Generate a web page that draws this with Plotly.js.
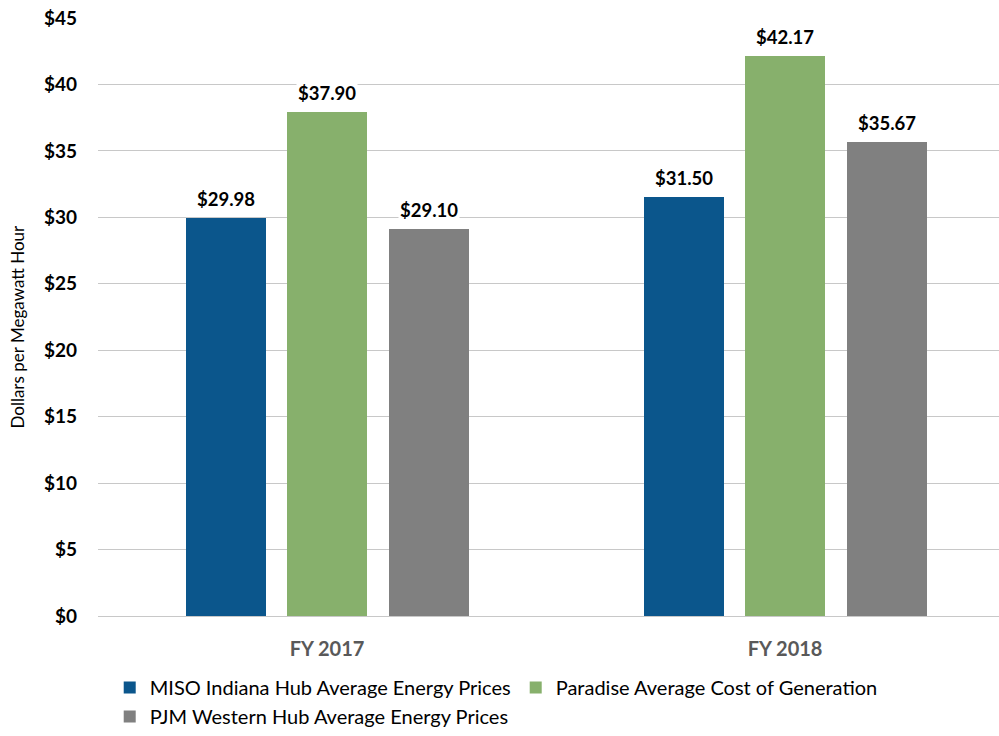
<!DOCTYPE html>
<html>
<head>
<meta charset="utf-8">
<script src="https://cdn.plot.ly/plotly-3.0.1.min.js"></script>
<style>html,body{margin:0;padding:0;background:#fff;}#chart{width:999px;height:736px;}</style>
</head>
<body>
<div id="chart"></div>
<script>
const categories = ["FY 2017", "FY 2018"];
const seriesNames = [
  "MISO Indiana Hub Average Energy Prices",
  "Paradise Average Cost of Generation",
  "PJM Western Hub Average Energy Prices"
];
const misoValues = [29.98, 31.50];
const paradiseValues = [37.90, 42.17];
const pjmValues = [29.10, 35.67];
const seriesColors = ["#0B568C", "#87B06C", "#808080"];
const yTickValues = [0, 5, 10, 15, 20, 25, 30, 35, 40, 45];
const yTickLabels = ["$0", "$5", "$10", "$15", "$20", "$25", "$30", "$35", "$40", "$45"];
const yAxisTitle = "Dollars per Megawatt Hour";

const FONT = "Lato, 'Liberation Sans', sans-serif";
const allValues = [misoValues, paradiseValues, pjmValues];
const offsetStep = 0.2216;
const barWidth = 0.1747;
const catIdx = categories.map((c, i) => i);

const traces = allValues.map((vals, k) => ({
  type: "bar",
  name: seriesNames[k],
  x: catIdx.map(i => i + (k - 1) * offsetStep),
  y: vals,
  width: barWidth,
  marker: {color: seriesColors[k], line: {width: 0}},
  hoverinfo: "skip"
}));

const annotations = [];
allValues.forEach((vals, k) => {
  vals.forEach((v, i) => {
    annotations.push({
      x: i + (k - 1) * offsetStep, y: v, xref: "x", yref: "y",
      text: "$" + v.toFixed(2), showarrow: false,
      yanchor: "bottom", yshift: 6,
      bgcolor: "#ffffff", borderpad: 1,
      font: {family: FONT, size: 18.5, color: "#000000", weight: 700}
    });
  });
});
annotations.push({
  text: yAxisTitle, xref: "paper", yref: "paper", x: -0.0888, y: 0.484,
  xanchor: "center", yanchor: "middle", textangle: -90, showarrow: false,
  font: {family: FONT, size: 17, color: "#000000"}
});

const layout = {
  width: 999, height: 736,
  margin: {l: 98, r: 0, t: 18, b: 119},
  paper_bgcolor: "#ffffff", plot_bgcolor: "#ffffff",
  font: {family: FONT},
  showlegend: true,
  xaxis: {
    range: [-0.5, 1.467],
    tickvals: catIdx, ticktext: categories,
    tickfont: {family: FONT, size: 20, color: "#595959", weight: 700},
    showgrid: false, zeroline: false, showline: false,
    ticks: "", ticklabelstandoff: 19, fixedrange: true
  },
  yaxis: {
    range: [0, 45],
    tickvals: yTickValues, ticktext: yTickLabels,
    tickfont: {family: FONT, size: 19, color: "#000000", weight: 700},
    showgrid: true, gridcolor: "#c8c8c8", gridwidth: 1,
    zeroline: true, zerolinecolor: "#c8c8c8", zerolinewidth: 1,
    ticks: "", ticklabelstandoff: 20, automargin: false,
    fixedrange: true
  },
  legend: {
    orientation: "h", x: 0.013, xanchor: "left", y: -0.087, yanchor: "top",
    font: {family: FONT, size: 20, color: "#000000"},
    itemwidth: 30, tracegroupgap: 0, traceorder: "normal"
  },
  annotations: annotations,
  bargap: 0, barmode: "overlay"
};

Plotly.newPlot("chart", traces, layout, {displayModeBar: false, staticPlot: true});
</script>
</body>
</html>
